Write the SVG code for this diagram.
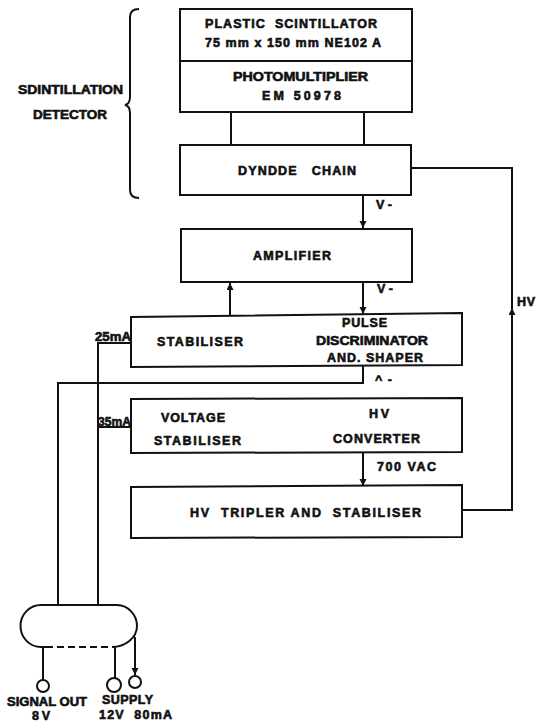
<svg xmlns="http://www.w3.org/2000/svg" width="536" height="726" viewBox="0 0 536 726">
<style>
.x,.l{fill:none;stroke:#111;stroke-width:2}
text{font-family:"Liberation Sans",Arial,sans-serif;font-weight:700;font-size:12.5px;fill:#111;stroke:#111;stroke-width:.6}
</style>
<defs><marker id="ah" markerUnits="userSpaceOnUse" markerWidth="8" markerHeight="8" refX="7" refY="3.500" orient="auto"><path d="M0 0L7 3.500L0 7Z" fill="#111"/></marker></defs>
<rect width="536" height="726" fill="#fff"/>
<g id="connectors">
<path class="l" d="M231 112V145M364 112V145"/>
<path class="l" d="M363 195V228" marker-end="url(#ah)"/>
<path class="l" d="M363 282V314" marker-end="url(#ah)"/>
<path class="l" d="M230 316V283" marker-end="url(#ah)"/>
<path class="l" d="M411 168H512V510H462"/>
<path class="l" d="M512 330V308" marker-end="url(#ah)"/>
<path class="l" d="M363 366V383H58V605"/>
<path class="l" d="M98 605V343H131M98 427H131"/>
<path class="l" d="M363 452V486" marker-end="url(#ah)"/>
<path class="l" d="M43 647V680M115 647V678"/>
<path class="l" d="M135 637V675" marker-end="url(#ah)"/>
</g>
<g id="brace"><path class="l" d="M139 9Q130 9 130 17V97Q130 104 125 105Q130 106 130 113V190Q130 198 139 198"/></g>
<g id="label-detector"><text x="18" y="94" textLength="105" lengthAdjust="spacingAndGlyphs">SDINTILLATION</text><text x="33" y="119" textLength="74" lengthAdjust="spacingAndGlyphs">DETECTOR</text></g>
<g id="scintillator"><path class="x" d="M180 9H412V61H180Z"/><text x="205" y="28" textLength="172" xml:space="preserve">PLASTIC  SCINTILLATOR</text><text x="205" y="47" textLength="176">75 mm x 150 mm NE102 A</text></g>
<g id="photomultiplier"><path class="x" d="M180 61H412V112H180Z"/><text x="233" y="81" textLength="135" lengthAdjust="spacingAndGlyphs">PHOTOMULTIPLIER</text><text x="262" y="100" textLength="79">EM 50978</text></g>
<g id="dynode"><path class="x" d="M180 145H411V195H180Z"/><text x="238" y="175" textLength="118" xml:space="preserve">DYNDDE   CHAIN</text></g>
<g id="amplifier"><path class="x" d="M181 229H412V282H181Z"/><text x="253" y="260" textLength="78">AMPLIFIER</text></g>
<text x="376" y="209" textLength="16">V-</text>
<text x="377" y="293" textLength="16">V-</text>
<text x="375" y="384" textLength="17">^-</text>
<g id="stabiliser"><path class="x" d="M131 317L462 313V365L131 367Z"/><text x="157" y="346" textLength="86">STABILISER</text><text x="342" y="327" textLength="45">PULSE</text><text x="316" y="345" textLength="112" lengthAdjust="spacingAndGlyphs">DISCRIMINATOR</text><text x="327" y="362" textLength="96">AND. SHAPER</text></g>
<text x="95" y="341" textLength="36" lengthAdjust="spacingAndGlyphs">25mA</text>
<g id="converter"><path class="x" d="M131 399L462 398V452L131 453Z"/><text x="161" y="422" textLength="64">VOLTAGE</text><text x="154" y="445" textLength="87">STABILISER</text><text x="369" y="418" textLength="20">HV</text><text x="333" y="443" textLength="87">CONVERTER</text></g>
<text x="98" y="426" textLength="33" lengthAdjust="spacingAndGlyphs">35mA</text>
<text x="377" y="471" textLength="59">700 VAC</text>
<text x="517" y="306" textLength="18">HV</text>
<g id="tripler"><path class="x" d="M131 487L462 485V537L131 538Z"/><text x="190" y="517" textLength="231" xml:space="preserve">HV  TRIPLER AND  STABILISER</text></g>
<g id="connector-plug"><path class="x" d="M46 647H41A20.500 21 0 0 1 41 605H117A20.500 21 0 0 1 137 626C137 638 125 647 112 647"/><path class="l" d="M46 647H112" stroke-dasharray="7 4"/></g>
<g id="pin-signal"><circle class="l" cx="43" cy="686" r="6"/></g>
<g id="pin-supply"><circle class="l" cx="114" cy="685" r="7"/></g>
<g id="pin-supply2"><circle class="l" cx="135" cy="682" r="6"/></g>
<text x="7" y="706" textLength="80" lengthAdjust="spacingAndGlyphs">SIGNAL OUT</text><text x="32" y="720" textLength="18">8V</text>
<text x="102" y="704" textLength="51">SUPPLY</text><text x="99" y="719" textLength="73" xml:space="preserve">12V  80mA</text>
</svg>
